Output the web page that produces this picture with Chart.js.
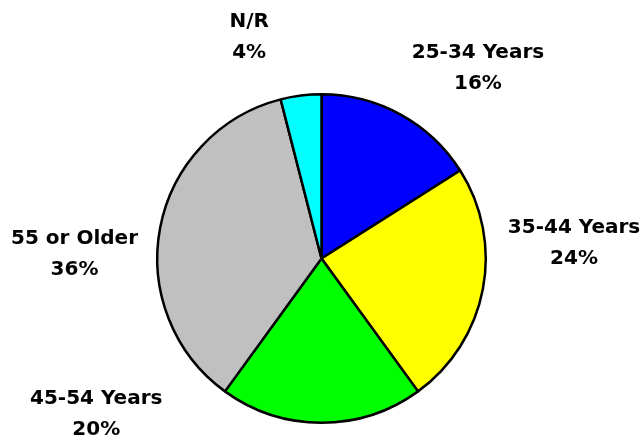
<!DOCTYPE html>
<html>
<head>
<meta charset="utf-8">
<script src="https://cdn.jsdelivr.net/npm/chart.js@4.4.1/dist/chart.umd.min.js"></script>
<style>
    html, body { margin: 0; padding: 0; background: #ffffff; }
    #wrap { width: 644px; height: 436px; position: relative; }
</style>
</head>
<body>
<div id="wrap"><canvas id="chart-age"></canvas></div>
<script>
// Age groups, clockwise from 12 o'clock
const ageGroups = ["25-34 Years", "35-44 Years", "45-54 Years", "55 or Older", "N/R"];
const agePercents = [16, 24, 20, 36, 4];
const sliceColors = ["#0000ff", "#ffff00", "#00ff00", "#c0c0c0", "#00ffff"];

// Label placement: angle (deg, clockwise from top) and distance from pie centre
const labelAngles = [39.5, 86.6, 235.3, 271.0, -18.1];
const labelDistances = [246, 253, 274, 247, 233];

// Draw the category + percent labels outside the pie
const outsideLabels = {
    id: "outsideLabels",
    afterDatasetsDraw(chart) {
        const ctx = chart.ctx;
        const arc = chart.getDatasetMeta(0).data[0];
        if (!arc) return;
        const cx = arc.x;
        const cy = arc.y;
        ctx.save();
        ctx.fillStyle = "#000000";
        ctx.font = "bold 20px 'DejaVu Sans', Verdana, sans-serif";
        ctx.textAlign = "center";
        ctx.textBaseline = "middle";
        ageGroups.forEach((name, i) => {
            const a = labelAngles[i] * Math.PI / 180;
            const x = cx + Math.sin(a) * labelDistances[i];
            const y = cy - Math.cos(a) * labelDistances[i];
            ctx.fillText(name, x, y - 15.5);
            ctx.fillText(agePercents[i] + "%", x, y + 15.5);
        });
        ctx.restore();
    }
};

new Chart(document.getElementById("chart-age").getContext("2d"), {
    type: "pie",
    data: {
        labels: ageGroups,
        datasets: [{
            data: agePercents,
            backgroundColor: sliceColors,
            borderColor: "#000000",
            borderWidth: 2.5,
            borderAlign: "center"
        }]
    },
    options: {
        responsive: true,
        maintainAspectRatio: false,
        animation: false,
        layout: { padding: { top: 93, bottom: 12, left: 0, right: 1 } },
        plugins: {
            legend: { display: false },
            tooltip: { enabled: false }
        }
    },
    plugins: [outsideLabels]
});
</script>
</body>
</html>
